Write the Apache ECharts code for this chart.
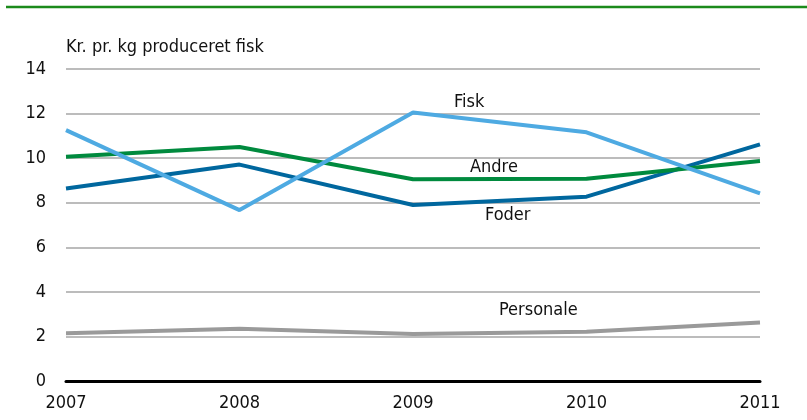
<!DOCTYPE html>
<html>
<head>
<meta charset="utf-8">
<script src="https://cdn.jsdelivr.net/npm/echarts@6/dist/echarts.min.js"></script>
<style>
  html, body { margin: 0; padding: 0; background: #fff; }
  #chart { width: 807px; height: 420px; }
</style>
</head>
<body>
<div id="chart"></div>
<script>
  const years = ["2007", "2008", "2009", "2010", "2011"]
  const fisk = [11.26, 7.67, 12.05, 11.16, 8.42]
  const andre = [10.06, 10.5, 9.05, 9.08, 9.87]
  const foder = [8.64, 9.71, 7.9, 8.27, 10.62]
  const personale = [2.14, 2.35, 2.11, 2.21, 2.63]

  const font = "'Liberation Sans Narrow', 'DejaVu Sans Condensed', sans-serif"

  function lineSeries(name, data, color, z) {
    return {
      name: name,
      type: "line",
      data: data,
      symbol: "none",
      z: z,
      lineStyle: { color: color, width: 4 },
    }
  }

  const labelStyle = (text, x, y) => ({
    type: "text",
    left: x,
    top: y,
    style: { text: text, font: "18px " + font, fill: "#111" },
  })

  const myChart = echarts.init(document.getElementById("chart"))
  myChart.setOption({
    animation: false,
    grid: { left: 66, right: 47, top: 69, bottom: 39, containLabel: false },
    xAxis: {
      type: "category",
      data: years,
      boundaryGap: false,
      axisLine: { show: true, lineStyle: { color: "#000", width: 3 } },
      axisTick: { show: false },
      axisLabel: { color: "#111", fontSize: 18, fontFamily: font, margin: 13 },
      splitLine: { show: false },
    },
    yAxis: {
      type: "value",
      min: 0,
      max: 14,
      interval: 2,
      axisLine: { show: false },
      axisTick: { show: false },
      axisLabel: { color: "#111", fontSize: 18, fontFamily: font, margin: 20 },
      splitLine: { lineStyle: { color: "#a6a6a6", width: 1.5 } },
    },
    series: [
      lineSeries("Personale", personale, "#9a9a9a", 2),
      lineSeries("Foder", foder, "#00679e", 3),
      lineSeries("Andre", andre, "#008a3e", 4),
      lineSeries("Fisk", fisk, "#4eaae2", 5),
    ],
    graphic: [
      {
        type: "line",
        shape: { x1: 6, y1: 7, x2: 807, y2: 7 },
        style: { stroke: "#1b8a1b", lineWidth: 2.5 },
      },
      labelStyle("Kr. pr. kg produceret fisk", 66, 38),
      labelStyle("Fisk", 454, 93),
      labelStyle("Andre", 470, 158),
      labelStyle("Foder", 485, 206),
      labelStyle("Personale", 499, 301),
    ],
  })
</script>
</body>
</html>
